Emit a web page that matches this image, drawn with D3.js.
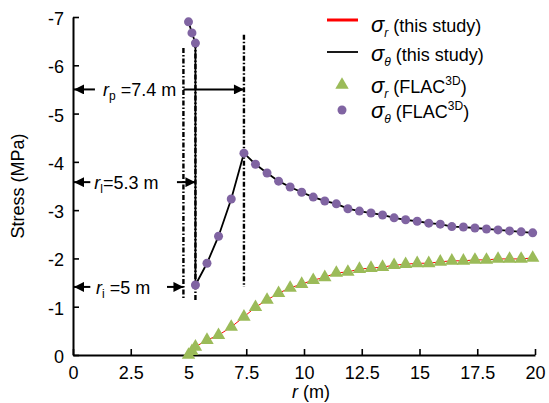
<!DOCTYPE html>
<html>
<head>
<meta charset="utf-8">
<script src="https://cdn.jsdelivr.net/npm/d3@7"></script>
<style>
  body { margin: 0; background: #fff; }
  svg text { font-family: "Liberation Sans", Arial, sans-serif; fill: #000; }
</style>
</head>
<body>
<div id="vis"></div>
<script>
// FLAC3D sigma_theta (hoop stress), MPa
var thetaR = [5.0, 5.15, 5.3, 5.3, 5.8, 6.3, 6.85, 7.4,
  7.9, 8.4, 8.9, 9.4, 9.9, 10.4, 10.9, 11.4, 11.9, 12.4, 12.9, 13.4, 13.9,
  14.4, 14.9, 15.4, 15.9, 16.4, 16.9, 17.4, 17.9, 18.4, 18.9, 19.4, 19.9];
var thetaS = [-6.9, -6.67, -6.46, -1.45, -1.9, -2.46, -3.23, -4.18,
  -3.95, -3.77, -3.60, -3.48, -3.37, -3.27, -3.19, -3.13, -3.03, -2.98, -2.94, -2.90,
  -2.84, -2.80, -2.77, -2.73, -2.71, -2.66, -2.65, -2.63, -2.61, -2.59, -2.57, -2.55, -2.53];

// FLAC3D sigma_r (radial stress), MPa
var radR = [5.0, 5.15, 5.3, 5.8, 6.3, 6.85, 7.4,
  7.9, 8.4, 8.9, 9.4, 9.9, 10.4, 10.9, 11.4, 11.9, 12.4, 12.9, 13.4, 13.9,
  14.4, 14.9, 15.4, 15.9, 16.4, 16.9, 17.4, 17.9, 18.4, 18.9, 19.4, 19.9];
var radS = [0, -0.08, -0.17, -0.31, -0.41, -0.58, -0.79,
  -0.99, -1.14, -1.28, -1.39, -1.47, -1.55, -1.61, -1.70, -1.72, -1.78, -1.80, -1.82,
  -1.86, -1.88, -1.90, -1.90, -1.93, -1.95, -1.95, -1.97, -1.97, -1.99, -1.99, -1.99, -2.01];

// this study (analytical) curves
var lineThetaR = thetaR, lineThetaS = thetaS;
var lineRadR = radR, lineRadS = radS;

var xTicks = [0, 2.5, 5, 7.5, 10, 12.5, 15, 17.5, 20];
var yTicks = [0, -1, -2, -3, -4, -5, -6, -7];

// radius markers (dash-dot) and dimension arrows
var markR = [4.78, 5.3, 7.4];
var markTop = [-6.36, -6.46, -6.63];
var markBottom = [-1.14, -1.12, -1.41];

var arrowY = [-5.5, -3.58, -1.41];
var arrowLeftFrom = [0.95, 0.75, 0.75];
var arrowRightFrom = [4.78, 4.5, 4.07];
var arrowRightTo = [7.4, 5.3, 4.78];
var arrowTextR = [1.3, 0.92, 1.0];
var arrowSub = ['p', 'l', 'i'];
var arrowRest = [' =7.4 m', '=5.3 m', ' =5 m'];

var width = 549, height = 403;

var x = d3.scaleLinear().domain([0, 20]).range([73, 535]);
var y = d3.scaleLinear().domain([0, -7]).range([355, 17]);

var svg = d3.select('#vis').append('svg')
  .attr('width', width)
  .attr('height', height);

svg.append('defs').append('marker')
  .attr('id', 'arr')
  .attr('viewBox', '0 0 10 10')
  .attr('refX', 10).attr('refY', 5)
  .attr('markerWidth', 11).attr('markerHeight', 10)
  .attr('markerUnits', 'userSpaceOnUse')
  .attr('orient', 'auto')
  .append('path').attr('d', 'M0,0L10,5L0,10z').attr('fill', '#000');

// axes
var xAxis = svg.append('g')
  .attr('transform', 'translate(0,' + y(0) + ')')
  .call(d3.axisBottom(x).tickValues(xTicks).tickFormat(function(d) { return String(d); })
    .tickSize(-6).tickSizeOuter(0).tickPadding(11));
var yAxis = svg.append('g')
  .attr('transform', 'translate(' + x(0) + ',0)')
  .call(d3.axisLeft(y).tickValues(yTicks).tickFormat(function(d) { return String(d); })
    .tickSize(-6).tickSizeOuter(0).tickPadding(9));

[xAxis, yAxis].forEach(function(g) {
  g.attr('font-size', 18).attr('font-family', '"Liberation Sans", Arial, sans-serif');
  g.select('.domain').attr('stroke-width', 2);
  g.selectAll('.tick line').attr('stroke-width', 1.6);
});
yAxis.selectAll('.tick text').attr('dy', '0.42em');

svg.append('text')
  .attr('transform', 'translate(24,' + ((y(0) + y(-7)) / 2) + ') rotate(-90)')
  .attr('text-anchor', 'middle')
  .attr('font-size', 18)
  .text('Stress (MPa)');

var xt = svg.append('text')
  .attr('x', 311).attr('y', 398)
  .attr('text-anchor', 'middle')
  .attr('font-size', 18);
xt.append('tspan').attr('font-style', 'italic').text('r');
xt.append('tspan').text(' (m)');

// dash-dot radius markers
svg.selectAll('.mark')
  .data(markR)
  .enter().append('line')
    .attr('class', 'mark')
    .attr('x1', function(d) { return x(d); })
    .attr('x2', function(d) { return x(d); })
    .attr('y1', function(d, i) { return y(markTop[i]); })
    .attr('y2', function(d, i) { return y(markBottom[i]); })
    .attr('stroke', '#000')
    .attr('stroke-width', 2.4)
    .attr('stroke-dasharray', '5,2,1.5,2');

// arrows
arrowY.forEach(function(v, i) {
  svg.append('line')
    .attr('x1', x(arrowLeftFrom[i])).attr('x2', x(0) + 1)
    .attr('y1', y(v)).attr('y2', y(v))
    .attr('stroke', '#000').attr('stroke-width', 2)
    .attr('marker-end', 'url(#arr)');
  svg.append('line')
    .attr('x1', x(arrowRightFrom[i])).attr('x2', x(arrowRightTo[i]))
    .attr('y1', y(v)).attr('y2', y(v))
    .attr('stroke', '#000').attr('stroke-width', 2)
    .attr('marker-end', 'url(#arr)');
  var t = svg.append('text')
    .attr('x', x(arrowTextR[i])).attr('y', y(v) + 7)
    .attr('font-size', 18);
  t.append('tspan').attr('font-style', 'italic').text('r');
  t.append('tspan').attr('font-size', 12).attr('dy', 4).text(arrowSub[i]);
  t.append('tspan').attr('dy', -4).text(arrowRest[i]);
});

// this study lines
var line = d3.line()
  .x(function(d) { return x(d[0]); })
  .y(function(d) { return y(d[1]); });

svg.append('path')
  .datum(d3.zip(lineRadR, lineRadS))
  .attr('fill', 'none')
  .attr('stroke', '#ff0000')
  .attr('stroke-width', 1)
  .attr('d', line);

svg.append('path')
  .datum(d3.zip(lineThetaR, lineThetaS))
  .attr('fill', 'none')
  .attr('stroke', '#000')
  .attr('stroke-width', 1.8)
  .attr('d', line);

// FLAC3D points
var tri = d3.symbol().type(d3.symbolTriangle).size(78);
svg.selectAll('.tri')
  .data(d3.zip(radR, radS))
  .enter().append('path')
    .attr('class', 'tri')
    .attr('d', tri)
    .attr('transform', function(d) { return 'translate(' + x(d[0]) + ',' + y(d[1]) + ')'; })
    .attr('fill', '#9bbb59');

svg.selectAll('.dot')
  .data(d3.zip(thetaR, thetaS))
  .enter().append('circle')
    .attr('class', 'dot')
    .attr('cx', function(d) { return x(d[0]); })
    .attr('cy', function(d) { return y(d[1]); })
    .attr('r', 4.5)
    .attr('fill', '#8064a2');

// legend
var legend = svg.append('g');
var legY = [20, 52, 85, 110];
var legBase = [32, 61, 93, 118];
var legSub = ['r', '\u03b8', 'r', '\u03b8'];
var legRest = [' (this study)', ' (this study)', ' (FLAC', ' (FLAC'];

legend.append('line').attr('x1', 327).attr('x2', 358).attr('y1', legY[0]).attr('y2', legY[0])
  .attr('stroke', '#ff0000').attr('stroke-width', 3);
legend.append('line').attr('x1', 327).attr('x2', 358).attr('y1', legY[1]).attr('y2', legY[1])
  .attr('stroke', '#000').attr('stroke-width', 1.8);
legend.append('path').attr('d', tri)
  .attr('transform', 'translate(342,' + legY[2] + ')').attr('fill', '#9bbb59');
legend.append('circle').attr('cx', 342).attr('cy', legY[3]).attr('r', 4.5).attr('fill', '#8064a2');

legSub.forEach(function(s, i) {
  var t = legend.append('text').attr('x', 371).attr('y', legBase[i]).attr('font-size', 18);
  t.append('tspan').attr('font-style', 'italic').attr('font-size', 22).text('\u03c3');
  t.append('tspan').attr('font-style', 'italic').attr('font-size', 12).attr('dy', 5).text(s);
  t.append('tspan').attr('dy', -5).text(legRest[i]);
  if (i > 1) {
    t.append('tspan').attr('font-size', 12).attr('dy', -8).text('3D');
    t.append('tspan').attr('dy', 8).text(')');
  }
});
</script>
</body>
</html>
